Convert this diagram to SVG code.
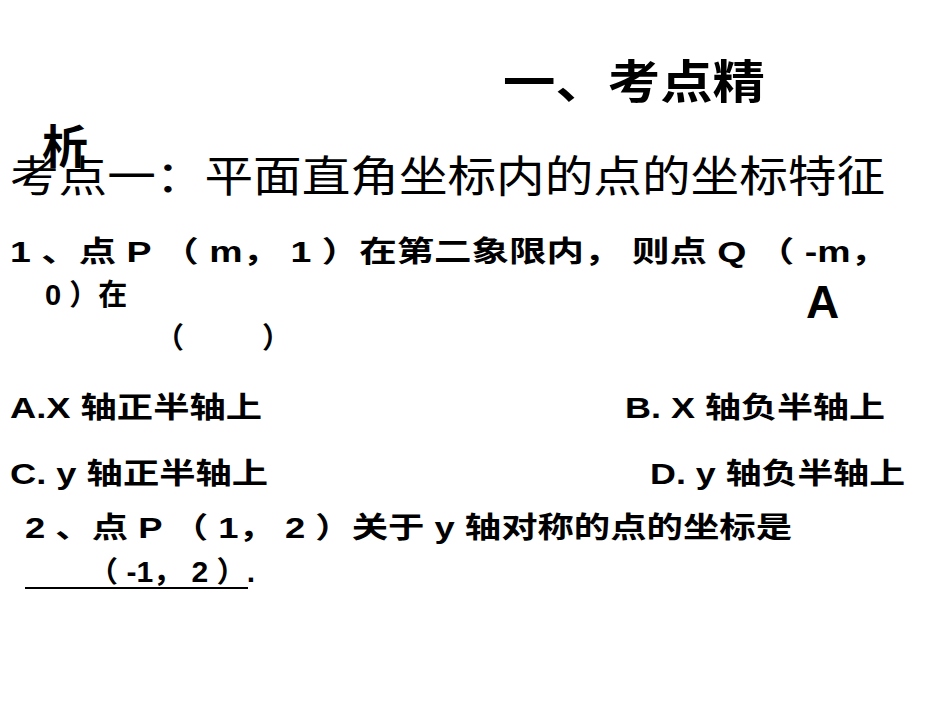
<svg xmlns="http://www.w3.org/2000/svg" width="950" height="713" viewBox="0 0 950 713">
<style>
text{fill:#000;font-family:"Liberation Sans","Noto Sans CJK SC",sans-serif}
.h{font-weight:bold;font-size:46px}
.s{font-size:43px;font-family:"Noto Sans CJK SC",serif}
.b{font-weight:bold;font-size:29px}
</style>
<rect width="950" height="713" fill="#fff"/>
<g id="title">
<text class="h" x="503" y="98" textLength="262" lengthAdjust="spacingAndGlyphs">一、考点精</text>
<text class="h" x="42" y="163">析</text>
</g>
<g id="heading"><text class="s" x="10" y="192" textLength="875" lengthAdjust="spacingAndGlyphs">考点一：平面直角坐标内的点的坐标特征</text></g>
<g id="q1">
<text class="b" x="10" y="262" textLength="878" lengthAdjust="spacingAndGlyphs">1 、点 P （ m， 1 ）在第二象限内，    则点 Q （ -m，</text>
<text class="b" x="45" y="305">0 ）在</text>
<text x="806" y="318" font-size="46" font-weight="bold">A</text>
<text class="b" x="155" y="348">（</text>
<text class="b" x="262" y="348">）</text>
<text class="b" x="10" y="418" textLength="252" lengthAdjust="spacingAndGlyphs">A.X 轴正半轴上</text>
<text class="b" x="625" y="418" textLength="260" lengthAdjust="spacingAndGlyphs">B. X 轴负半轴上</text>
<text class="b" x="10" y="484" textLength="258" lengthAdjust="spacingAndGlyphs">C. y 轴正半轴上</text>
<text class="b" x="650" y="484" textLength="255" lengthAdjust="spacingAndGlyphs">D. y 轴负半轴上</text>
</g>
<g id="q2">
<text class="b" x="25" y="538" textLength="767" lengthAdjust="spacingAndGlyphs">2 、点 P （ 1， 2 ）关于 y 轴对称的点的坐标是</text>
<text class="b" x="88" y="582" textLength="167" lengthAdjust="spacingAndGlyphs">（ -1， 2 ）.</text>
<line x1="25" y1="588" x2="248" y2="588" stroke="#000" stroke-width="2"/>
</g>
</svg>
